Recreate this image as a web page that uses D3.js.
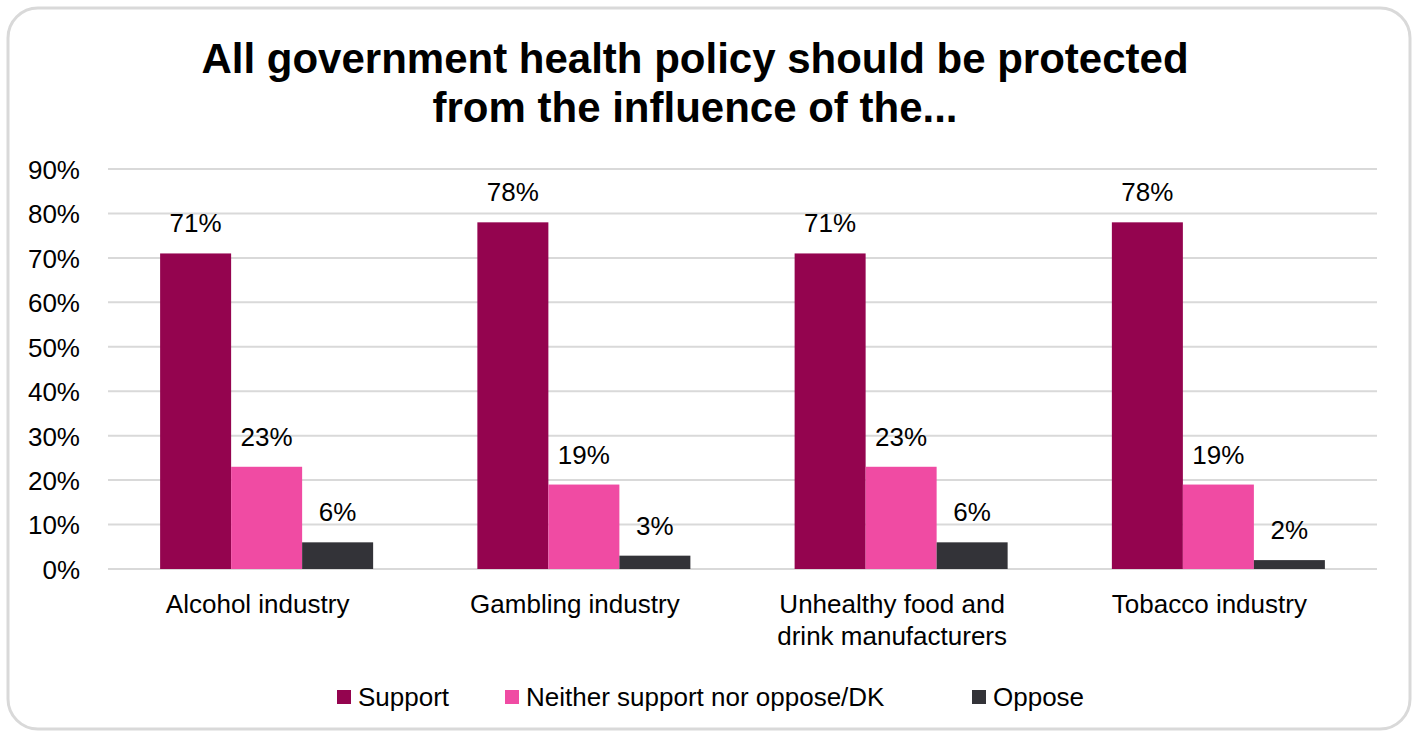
<!DOCTYPE html>
<html>
<head>
<meta charset="utf-8">
<script src="https://cdn.jsdelivr.net/npm/d3@7"></script>
<style>
  body { margin: 0; background: #fff; }
  svg { display: block; font-family: "Liberation Sans", Arial, sans-serif; }
</style>
</head>
<body>
<svg id="chart" width="1416" height="737"></svg>
<script>
// chart data
var categories = [["Alcohol industry"], ["Gambling industry"], ["Unhealthy food and", "drink manufacturers"], ["Tobacco industry"]];
var seriesNames = ["Support", "Neither support nor oppose/DK", "Oppose"];
var support = [71, 78, 71, 78];
var neither = [23, 19, 23, 19];
var oppose = [6, 3, 6, 2];
var yTicks = [0, 10, 20, 30, 40, 50, 60, 70, 80, 90];
var titleLines = ["All government health policy should be protected", "from the influence of the..."];

var colors = ["#94044f", "#f04ba3", "#333338"];
var allSeries = [support, neither, oppose];

var svg = d3.select("#chart");

// outer rounded frame
svg.append("rect")
  .attr("x", 8).attr("y", 8)
  .attr("width", 1402).attr("height", 721)
  .attr("rx", 30)
  .attr("fill", "#fff")
  .attr("stroke", "#d9d9d9")
  .attr("stroke-width", 3);

// title
svg.append("g").selectAll("text")
  .data(titleLines).enter()
  .append("text")
  .attr("x", 695)
  .attr("y", (d, i) => 73 + i * 49)
  .attr("text-anchor", "middle")
  .attr("font-size", 42)
  .attr("font-weight", "bold")
  .attr("fill", "#000")
  .text(d => d);

// plot area (named to avoid window.top)
var plotLeft = 108, plotRight = 1377, plotTop = 169, plotBottom = 569;

var x0 = d3.scaleBand().domain(d3.range(categories.length)).range([plotLeft, plotRight]);
var x1 = d3.scaleBand().domain(d3.range(seriesNames.length))
  .range([0, x0.bandwidth()]).paddingInner(0).paddingOuter(0.734);
var y = d3.scaleLinear().domain([0, 90]).range([plotBottom, plotTop]);

// gridlines
svg.append("g").selectAll("line")
  .data(yTicks).enter()
  .append("line")
  .attr("x1", plotLeft).attr("x2", plotRight)
  .attr("y1", d => y(d)).attr("y2", d => y(d))
  .attr("stroke", "#d9d9d9")
  .attr("stroke-width", 2);

// y axis labels
var yAxis = svg.append("g")
  .attr("transform", "translate(80,0)")
  .call(d3.axisLeft(y).tickValues(yTicks).tickSize(0).tickPadding(0).tickFormat(d => d + "%"));
yAxis.select(".domain").remove();
yAxis.selectAll("text")
  .attr("font-size", 26)
  .attr("font-family", "Liberation Sans, Arial, sans-serif")
  .attr("fill", "#000")
  .attr("dy", "0.36em");

// bars
var groups = svg.append("g").selectAll("g")
  .data(categories.map((c, i) => i)).enter()
  .append("g")
  .attr("transform", d => "translate(" + x0(d) + ",0)");

groups.selectAll("rect")
  .data(ci => allSeries.map((s, si) => ({ si: si, v: s[ci] }))).enter()
  .append("rect")
  .attr("x", d => x1(d.si))
  .attr("y", d => y(d.v))
  .attr("width", x1.bandwidth())
  .attr("height", d => y(0) - y(d.v))
  .attr("fill", d => colors[d.si]);

groups.selectAll("text.val")
  .data(ci => allSeries.map((s, si) => ({ si: si, v: s[ci] }))).enter()
  .append("text")
  .attr("class", "val")
  .attr("x", d => x1(d.si) + x1.bandwidth() / 2)
  .attr("y", d => y(d.v) - 21)
  .attr("text-anchor", "middle")
  .attr("font-size", 26)
  .attr("fill", "#000")
  .text(d => d.v + "%");

// category labels
var catLabels = svg.append("g").selectAll("text")
  .data(categories).enter()
  .append("text")
  .attr("x", (d, i) => x0(i) + x0.bandwidth() / 2 - 9)
  .attr("y", 613)
  .attr("text-anchor", "middle")
  .attr("font-size", 26)
  .attr("fill", "#000");
catLabels.selectAll("tspan")
  .data(d => d).enter()
  .append("tspan")
  .attr("x", function () { return d3.select(this.parentNode).attr("x"); })
  .attr("dy", (d, i) => i === 0 ? 0 : 32)
  .text(d => d);

// legend
var legendX = [337, 505, 972];
var legend = svg.append("g").selectAll("g")
  .data(seriesNames).enter()
  .append("g")
  .attr("transform", (d, i) => "translate(" + legendX[i] + ",690)");
legend.append("rect")
  .attr("width", 14).attr("height", 14)
  .attr("fill", (d, i) => colors[i]);
legend.append("text")
  .attr("x", 21)
  .attr("y", 16)
  .attr("font-size", 26)
  .attr("fill", "#000")
  .text(d => d);
</script>
</body>
</html>
